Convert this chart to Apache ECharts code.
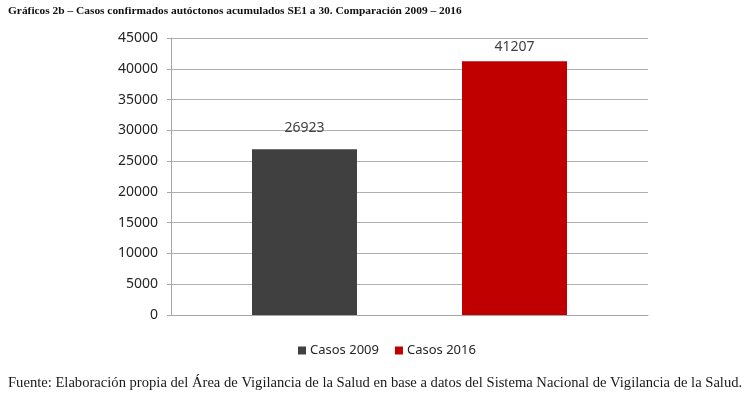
<!DOCTYPE html>
<html>
<head>
<meta charset="utf-8">
<script src="https://cdn.jsdelivr.net/npm/echarts@6/dist/echarts.min.js"></script>
<style>
html,body{margin:0;padding:0;background:#fff;}
#c{width:750px;height:396px;}
</style>
</head>
<body>
<div id="c"></div>
<script>
var titleText = 'Gráficos 2b – Casos confirmados autóctonos acumulados SE1 a 30. Comparación 2009 – 2016';
var sourceText = 'Fuente: Elaboración propia del Área de Vigilancia de la Salud en base a datos del Sistema Nacional de Vigilancia de la Salud.';
var categories = [''];
var seriesNames = ['Casos 2009', 'Casos 2016'];
var casos2009 = [26923];
var casos2016 = [41207];
var yMin = 0, yMax = 45000, yInterval = 5000;

var chart = echarts.init(document.getElementById('c'));
chart.setOption({
  animation: false,
  backgroundColor: '#ffffff',
  title: [{
    text: titleText,
    left: 3, top: 1,
    textStyle: {fontFamily: 'Liberation Serif', fontWeight: 'bold', fontSize: 11.4, color: '#111111'}
  }, {
    text: sourceText,
    left: 3, top: 371,
    textStyle: {fontFamily: 'Liberation Serif', fontWeight: 'normal', fontSize: 14.6, color: '#1a1a1a'}
  }],
  legend: {
    data: seriesNames,
    left: 293, top: 339,
    itemWidth: 8, itemHeight: 8, itemGap: 16,
    icon: 'rect',
    textStyle: {fontFamily: 'Noto Sans', fontSize: 13, color: '#262626', padding: [0,0,0,-1]}
  },
  grid: {left: 171, right: 102, top: 38, bottom: 81, containLabel: false},
  xAxis: {
    type: 'category',
    data: categories,
    axisLine: {show: true, lineStyle: {color: '#a6a6a6', width: 1}},
    axisTick: {show: false},
    axisLabel: {show: false}
  },
  yAxis: {
    type: 'value',
    min: yMin, max: yMax, interval: yInterval,
    axisLine: {show: true, lineStyle: {color: '#a6a6a6', width: 1}},
    axisTick: {show: true, length: 4, lineStyle: {color: '#a6a6a6'}},
    axisLabel: {fontFamily: 'Noto Sans', fontSize: 14, color: '#262626', margin: 13,
      formatter: function (v) { return String(v); }},
    splitLine: {show: true, lineStyle: {color: '#b0b0b0', width: 1}}
  },
  series: [{
    name: seriesNames[0],
    type: 'bar',
    data: casos2009,
    barWidth: 105,
    barGap: '100%',
    itemStyle: {color: '#404040'},
    label: {show: true, position: 'top', distance: 14, fontFamily: 'Noto Sans', fontSize: 14, color: '#404040'}
  }, {
    name: seriesNames[1],
    type: 'bar',
    data: casos2016,
    barWidth: 105,
    barGap: '100%',
    itemStyle: {color: '#c00000'},
    label: {show: true, position: 'top', distance: 7, fontFamily: 'Noto Sans', fontSize: 14, color: '#404040'}
  }]
});
</script>
</body>
</html>
